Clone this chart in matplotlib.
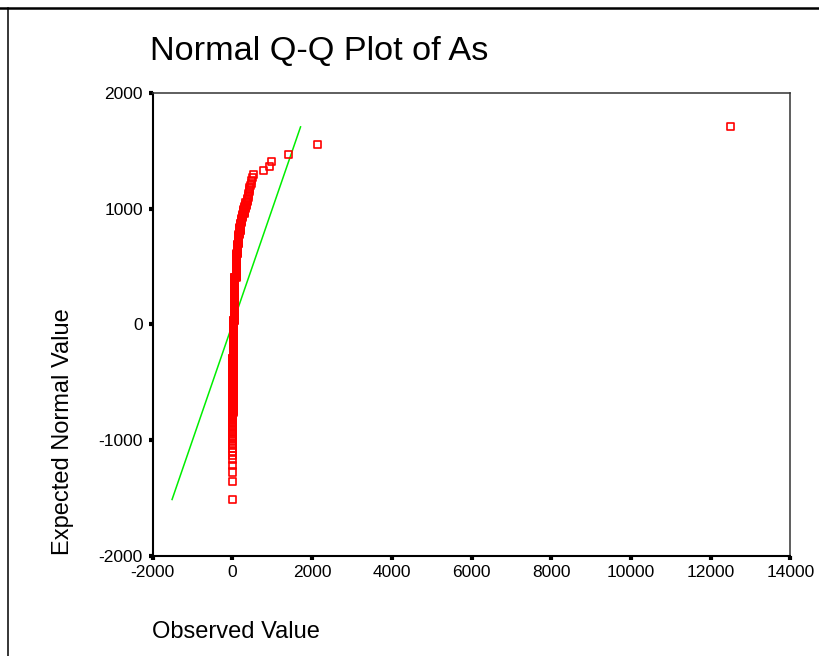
import numpy as np
import matplotlib
matplotlib.use('Agg')
import matplotlib.pyplot as plt
from matplotlib.lines import Line2D
from statistics import NormalDist

plt.rcParams['font.family'] = ['Liberation Sans', 'DejaVu Sans']
plt.rcParams['axes.unicode_minus'] = False

as_values = [8, 15, 20, 45, 60, 95,
             100, 110, 120, 130, 145, 160, 175, 190, 210, 235, 260, 290,
             315, 340, 370, 400, 430, 455, 470, 495, 523,
             773, 941, 984, 1418, 2145, 12500]
as_counts = [30, 110, 136, 85, 81, 53,
             8, 8, 10, 12, 9, 9, 6, 6, 6, 6, 4, 5,
             3, 3, 3, 3, 3, 1, 2, 1, 1,
             1, 1, 1, 1, 1, 1]

x_ticks = [-2000, 0, 2000, 4000, 6000, 8000, 10000, 12000, 14000]
y_ticks = [-2000, -1000, 0, 1000, 2000]

observed = np.sort(np.repeat(as_values, as_counts)).astype(float)
n = len(observed)
mean = observed.mean()
sd = observed.std(ddof=1)

# Blom's proportion estimation, as SPSS does
ranks = np.arange(1, n + 1)
p = (ranks - 3 / 8) / (n + 1 / 4)
z = np.array([NormalDist().inv_cdf(v) for v in p])
expected = mean + sd * z

fig = plt.figure(figsize=(8.2, 6.56), dpi=100)
ax = fig.add_axes([0.1862, 0.1529, 0.7778, 0.7049])

ax.plot([expected.min(), expected.max()], [expected.min(), expected.max()],
        color='#00ee00', linewidth=1.1, zorder=1)
ax.scatter(observed, expected, marker='s', s=26, facecolors='none',
           edgecolors='#ff0000', linewidths=1.2, zorder=2)

ax.set_xlim(-2000, 14000)
ax.set_ylim(-2000, 2000)
ax.set_xticks(x_ticks)
ax.set_yticks(y_ticks)
ax.tick_params(direction='out', length=3, width=3, labelsize=12.5, pad=4)

for side in ['left', 'bottom']:
    ax.spines[side].set_linewidth(1.5)
    ax.spines[side].set_color('black')
for side in ['top', 'right']:
    ax.spines[side].set_linewidth(1.1)
    ax.spines[side].set_color('#333333')

fig.text(150 / 820, 1 - 52 / 656, 'Normal Q-Q Plot of As', fontsize=24.7,
         ha='left', va='center')
fig.text(152 / 820, 1 - 632 / 656, 'Observed Value', fontsize=17,
         ha='left', va='center')
fig.text(63 / 820, 1 - 555 / 656, 'Expected Normal Value', fontsize=17,
         rotation=90, ha='center', va='bottom')

# outer frame lines
fig.add_artist(Line2D([0, 1], [1 - 8 / 656, 1 - 8 / 656], color='black',
                      linewidth=1.8, transform=fig.transFigure))
fig.add_artist(Line2D([8 / 820, 8 / 820], [0, 1 - 8 / 656], color='black',
                      linewidth=1.1, transform=fig.transFigure))

fig.savefig('out.png', dpi=100)
